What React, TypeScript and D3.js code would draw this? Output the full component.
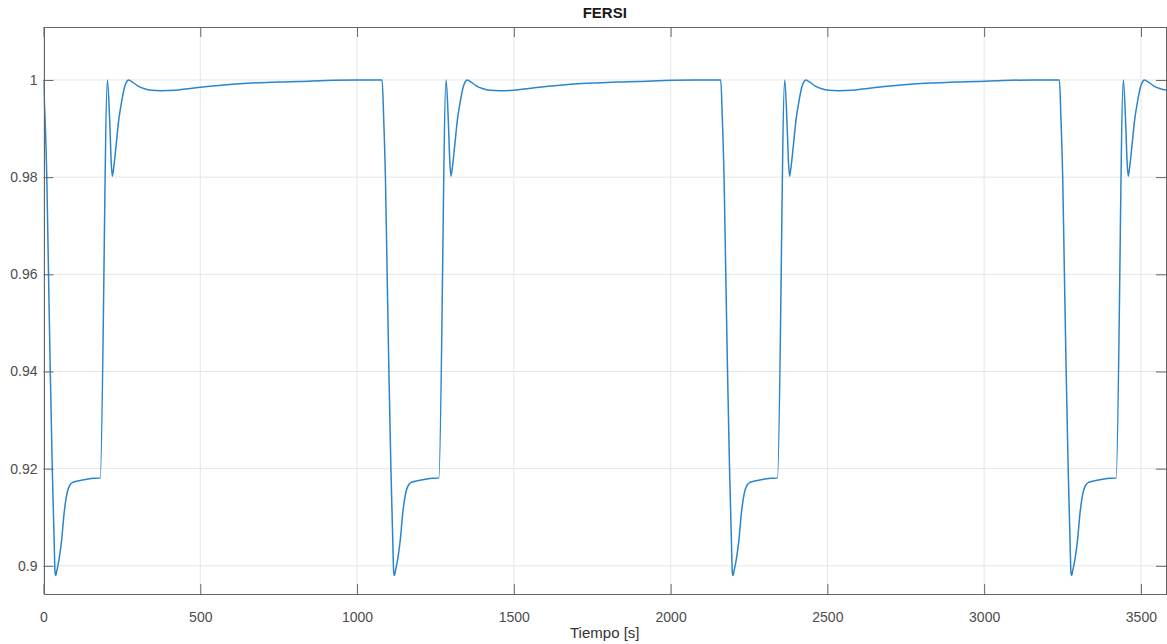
import React, { useRef, useEffect } from "react";
import * as d3 from "d3";

// one cycle of FERSI, time relative to the start of the cycle [s]
const cycleTime = [
  0, 5, 10.5, 16, 21.6, 28, 34, 37, 39.5, 42, 50, 58, 66, 78, 86, 94, 120, 147,
  160, 181, 204, 212, 216, 219.5, 223, 232, 240, 248, 258, 265, 271, 285, 300,
  322, 345, 375, 420, 500, 567, 650, 750, 818, 900, 1000, 1079,
];
const cycleValue = [
  1.0, 0.992, 0.98, 0.96, 0.94, 0.92, 0.905, 0.8985, 0.898, 0.8988, 0.9015,
  0.9054, 0.911, 0.9157, 0.9168, 0.9172, 0.9176, 0.9179, 0.918, 0.9181, 1.0,
  0.99, 0.983, 0.9802, 0.9815, 0.9868, 0.9918, 0.9951, 0.9984, 0.9996, 1.0,
  0.9995, 0.9988, 0.9982, 0.9979, 0.9978, 0.9979, 0.9985, 0.9989, 0.9993,
  0.9996, 0.9997, 0.9999, 1.0, 1.0,
];
// the cycle starts again every time the signal drops
const cycleStarts = [0, 1080, 2160, 3240];

const xTicks = [0, 500, 1000, 1500, 2000, 2500, 3000, 3500];
const yTicks = [0.9, 0.92, 0.94, 0.96, 0.98, 1];

export default function App() {
  const ref = useRef<SVGSVGElement>(null);

  useEffect(() => {
    const W = 1167;
    const H = 644;
    const margin = { top: 27, right: 1, bottom: 50, left: 43.5 };
    const width = W - margin.left - margin.right;
    const height = H - margin.top - margin.bottom;
    const font = "'Liberation Sans', Arial, Helvetica, sans-serif";
    const axisColor = "#666666";

    const svg = d3.select(ref.current).attr("width", W).attr("height", H);
    svg.selectAll("*").remove();

    const data: [number, number][] = [];
    cycleStarts.forEach((s) => {
      cycleTime.forEach((t, i) => data.push([s + t, cycleValue[i]]));
    });

    const x = d3.scaleLinear().domain([0, 3580]).range([0, width]);
    const y = d3.scaleLinear().domain([0.8942, 1.0109]).range([height, 0]);

    const g = svg
      .append("g")
      .attr("transform", `translate(${margin.left},${margin.top})`);

    g.append("defs")
      .append("clipPath")
      .attr("id", "plotclip")
      .append("rect")
      .attr("width", width)
      .attr("height", height);

    // grid
    g.selectAll(".gx")
      .data(xTicks)
      .enter()
      .append("line")
      .attr("x1", (d) => x(d))
      .attr("x2", (d) => x(d))
      .attr("y1", 0)
      .attr("y2", height)
      .style("stroke", "#e6e6e6")
      .style("stroke-width", 1);
    g.selectAll(".gy")
      .data(yTicks)
      .enter()
      .append("line")
      .attr("x1", 0)
      .attr("x2", width)
      .attr("y1", (d) => y(d))
      .attr("y2", (d) => y(d))
      .style("stroke", "#e6e6e6")
      .style("stroke-width", 1);

    // curve
    const line = d3
      .line<[number, number]>()
      .x((d) => x(d[0]))
      .y((d) => y(d[1]))
      .curve(d3.curveMonotoneX);
    g.append("path")
      .datum(data)
      .attr("clip-path", "url(#plotclip)")
      .attr("d", line)
      .style("fill", "none")
      .style("stroke", "#2a85cc")
      .style("stroke-width", 1.5);

    // axes, ticks inside on all four sides
    const tick = 10;
    const bottom = g.append("g").attr("transform", `translate(0,${height})`);
    bottom.call(
      d3.axisBottom(x).tickValues(xTicks).tickSize(-tick).tickPadding(18).tickFormat(d3.format("d"))
    );
    const top = g.append("g");
    top.call(d3.axisTop(x).tickValues(xTicks).tickSize(-tick).tickFormat(() => ""));
    const left = g.append("g");
    left.call(
      d3.axisLeft(y).tickValues(yTicks).tickSize(-tick).tickPadding(6).tickFormat((d) => String(+d))
    );
    const right = g.append("g").attr("transform", `translate(${width},0)`);
    right.call(d3.axisRight(y).tickValues(yTicks).tickSize(-tick).tickFormat(() => ""));

    [bottom, top, left, right].forEach((a) => {
      a.select(".domain").style("stroke", axisColor).attr("shape-rendering", "crispEdges");
      a.selectAll(".tick line").style("stroke", axisColor);
      a.selectAll(".tick text")
        .style("fill", "#4d4d4d")
        .style("font-family", font)
        .style("font-size", "14px");
    });

    svg
      .append("text")
      .attr("x", margin.left + width / 2)
      .attr("y", 18)
      .attr("text-anchor", "middle")
      .style("font-family", font)
      .style("font-size", "15px")
      .style("font-weight", "bold")
      .style("fill", "#1a1a1a")
      .text("FERSI");

    svg
      .append("text")
      .attr("x", margin.left + width / 2)
      .attr("y", 638)
      .attr("text-anchor", "middle")
      .style("font-family", font)
      .style("font-size", "15px")
      .style("fill", "#333333")
      .text("Tiempo [s]");
  }, []);

  return (
    <svg
      ref={ref}
      style={{ position: "absolute", left: 0, top: 0, background: "#fff" }}
    ></svg>
  );
}
